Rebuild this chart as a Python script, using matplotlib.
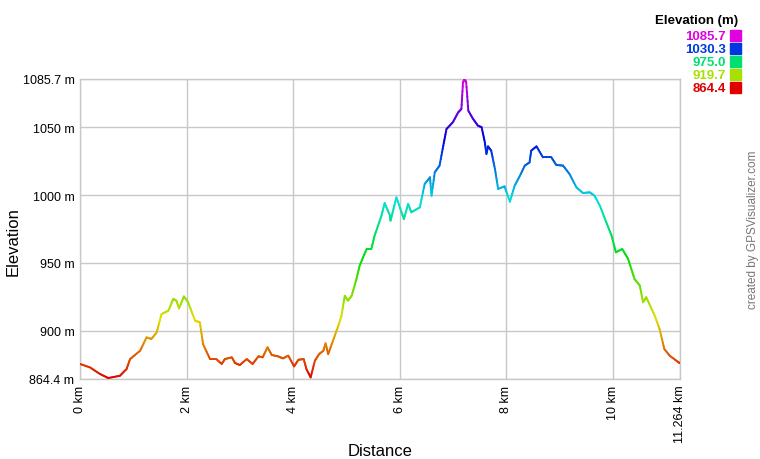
import colorsys
import numpy as np
import matplotlib
matplotlib.use("Agg")
import matplotlib.pyplot as plt
from matplotlib.collections import LineCollection

# profile (km, m)
distance_km = [0.0, 0.19, 0.375, 0.53, 0.75, 0.875, 0.94, 1.13, 1.25, 1.34, 1.44, 1.53, 1.66,
               1.75, 1.81, 1.86, 1.95, 2.03, 2.16, 2.25, 2.31, 2.44, 2.56, 2.66, 2.72, 2.85,
               2.91, 3.0, 3.13, 3.24, 3.35, 3.43, 3.52, 3.6, 3.72, 3.81, 3.91, 4.02, 4.10,
               4.2, 4.25, 4.33, 4.41, 4.49, 4.57, 4.61, 4.66, 4.75, 4.85, 4.91, 4.97, 5.03,
               5.1, 5.19, 5.25, 5.38, 5.47, 5.53, 5.66, 5.72, 5.82, 5.83, 5.94, 6.08, 6.16,
               6.22, 6.38, 6.47, 6.57, 6.6, 6.66, 6.75, 6.82, 6.88, 7.0, 7.10, 7.16, 7.19,
               7.22, 7.25, 7.29, 7.38, 7.47, 7.54, 7.60, 7.63, 7.66, 7.72, 7.79, 7.85, 7.97,
               8.07, 8.16, 8.26, 8.35, 8.44, 8.47, 8.57, 8.69, 8.85, 8.94, 9.07, 9.19, 9.32,
               9.44, 9.57, 9.66, 9.76, 9.88, 9.98, 10.06, 10.18, 10.29, 10.41, 10.51, 10.57,
               10.63, 10.79, 10.88, 10.97, 11.07, 11.22, 11.264]
elevation_m = [875.5, 872.9, 868.1, 865.1, 866.8, 871.8, 879.1, 885.3, 895.1, 893.9, 898.8,
               912.3, 914.8, 923.4, 922.2, 916.5, 925.3, 921.0, 907.4, 906.2, 890.2, 879.1,
               879.1, 875.5, 879.1, 880.4, 876.2, 874.7, 879.1, 875.5, 881.1, 880.4, 887.8,
               882.1, 881.1, 879.6, 881.6, 873.7, 878.6, 879.1, 871.8, 865.6, 877.9, 882.8,
               885.3, 890.7, 882.8, 892.7, 903.7, 911.1, 925.8, 922.2, 925.8, 938.2, 948.0,
               960.3, 960.3, 970.1, 984.9, 994.2, 984.9, 981.2, 998.4, 982.4, 993.5, 987.4,
               991.0, 1008.2, 1013.2, 999.6, 1016.9, 1021.8, 1036.5, 1048.8, 1053.8, 1061.1,
               1063.6, 1083.2, 1085.7, 1083.2, 1062.3, 1056.2, 1051.3, 1050.1, 1039.0, 1030.4,
               1036.0, 1032.8, 1019.3, 1004.6, 1006.5, 995.2, 1007.0, 1014.4, 1021.8, 1024.2,
               1032.8, 1036.0, 1027.9, 1027.9, 1022.3, 1021.8, 1015.6, 1005.8, 1001.6, 1002.1,
               999.6, 992.2, 980.0, 970.1, 957.9, 960.3, 953.0, 938.2, 933.3, 921.0, 924.7,
               911.1, 901.3, 886.5, 881.6, 877.2, 876.0]

elev_min = 864.4
elev_max = 1085.7
total_km = 11.264
y_ticks = [864.4, 900, 950, 1000, 1050, 1085.7]
y_labels = ["864.4 m", "900 m", "950 m", "1000 m", "1050 m", "1085.7 m"]
x_ticks = [0, 2, 4, 6, 8, 10, 11.264]
x_labels = ["0 km", "2 km", "4 km", "6 km", "8 km", "10 km", "11.264 km"]
legend_values = [1085.7, 1030.3, 975.0, 919.7, 864.4]


def elev_color(v):
    frac = (v - elev_min) / (elev_max - elev_min)
    frac = min(max(frac, 0), 1)
    return colorsys.hsv_to_rgb(frac * 300 / 360.0, 1.0, 0.88)


plt.rcParams['font.family'] = ['Liberation Sans', 'DejaVu Sans']

fig = plt.figure(figsize=(7.6, 4.6), dpi=100)
ax = fig.add_axes([80 / 760, 1 - 380 / 460, 600 / 760, 300 / 460])

# densify so colour changes smoothly along the line
xs = np.array(distance_km)
ys = np.array(elevation_m)
fine_x = []
fine_y = []
for i in range(len(xs) - 1):
    n = 6
    for k in range(n):
        t = k / n
        fine_x.append(xs[i] + (xs[i + 1] - xs[i]) * t)
        fine_y.append(ys[i] + (ys[i + 1] - ys[i]) * t)
fine_x.append(xs[-1])
fine_y.append(ys[-1])
pts = np.column_stack([fine_x, fine_y])
segs = np.stack([pts[:-1], pts[1:]], axis=1)
cols = [elev_color((a[1] + b[1]) / 2) for a, b in segs]
lc = LineCollection(segs, colors=cols, linewidths=1.4, capstyle='round', joinstyle='round', zorder=3)
ax.add_collection(lc)

ax.set_xlim(0, total_km)
ax.set_ylim(elev_min, elev_max)
ax.set_xticks(x_ticks)
ax.set_xticklabels(x_labels, rotation=90, va='top')
ax.set_yticks(y_ticks)
ax.set_yticklabels(y_labels)
ax.tick_params(length=0, labelsize=9, pad=4, colors='#000000')
ax.grid(True, color='#c8c8c8', linewidth=1)
for s in ax.spines.values():
    s.set_color('#c8c8c8')
    s.set_linewidth(1)
ax.set_axisbelow(True)

# axis titles placed where the reference has them
fig.text(13 / 760, 1 - 242 / 460, "Elevation", rotation=90, ha='center', va='center', fontsize=12)
fig.text(380 / 760, 1 - 452 / 460, "Distance", ha='center', va='center', fontsize=12)

# legend
fig.text(738 / 760, 1 - 21 / 460, "Elevation (m)", ha='right', va='center',
         fontsize=9.5, fontweight='bold')
for i, v in enumerate(legend_values):
    yc = 1 - (37 + i * 13) / 460
    c = elev_color(v)
    fig.text(726 / 760, yc, "%.1f" % v, ha='right', va='center', fontsize=9.5,
             fontweight='bold', color=c)
    fig.patches.append(plt.Rectangle((730 / 760, yc - 5 / 460), 11 / 760, 11 / 460,
                                     transform=fig.transFigure, color=c, figure=fig))

fig.text(753 / 760, 1 - 230 / 460, "created by GPSVisualizer.com", rotation=90,
         ha='center', va='center', fontsize=8.5, color='#777777')

fig.savefig("out.png", dpi=100)
